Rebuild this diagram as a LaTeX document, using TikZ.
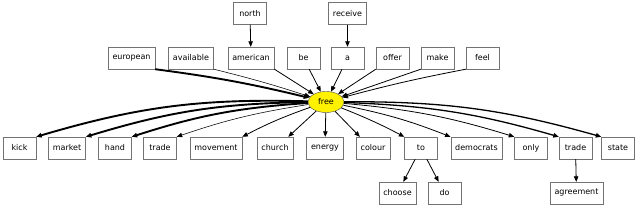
\documentclass[tikz,border=0pt]{standalone}
\usepackage{fontspec}
\setmainfont{DejaVu Sans}
\usetikzlibrary{arrows.meta,shapes.geometric}
\begin{document}
\begin{tikzpicture}[
  x=1pt,
  y=1pt,
  font=\fontsize{8}{9.5}\selectfont,
  word/.style={rectangle,draw=black!55,fill=white,minimum width=33pt,minimum height=22pt,inner xsep=4.5pt},
  hub/.style={ellipse,draw=black!70,fill=yellow,minimum width=36pt,minimum height=21pt,inner sep=1pt},
  link/.style={draw=black,line width=0.8pt,-{Triangle[length=5.5pt,width=4.5pt]}},
  thin link/.style={link,line width=0.55pt},
  strong/.style={link,line width=1.3pt},
  heavy/.style={link,line width=1.9pt}
]
  \useasboundingbox (0,0) rectangle (640,-207);

  % top rows
  \node[word] (north) at (250,-13.5) {north};
  \node[word] (receive) at (347.5,-13.5) {receive};
  \node[word] (european) at (131.5,-58) {european};
  \node[word] (available) at (191,-58) {available};
  \node[word] (american) at (251,-58) {american};
  \node[word] (be) at (303.5,-58) {be};
  \node[word] (a) at (347.5,-58) {a};
  \node[word] (offer) at (392.5,-58) {offer};
  \node[word] (make) at (437.5,-58) {make};
  \node[word] (feel) at (482.5,-58) {feel};

  \node[hub] (free) at (326,-102) {free};

  % lower rows
  \node[word] (kick) at (19.5,-148) {kick};
  \node[word] (market) at (67,-148) {market};
  \node[word] (hand) at (115,-148) {hand};
  \node[word] (tradeL) at (160,-148) {trade};
  \node[word] (movement) at (216,-148) {movement};
  \node[word] (church) at (275,-148) {church};
  \node[word] (energy) at (325,-148) {energy};
  \node[word] (colour) at (373,-148) {colour};
  \node[word] (tonode) at (421,-148) {to};
  \node[word] (democrats) at (476.5,-148) {democrats};
  \node[word] (only) at (531,-148) {only};
  \node[word] (tradeR) at (575.5,-148) {trade};
  \node[word] (state) at (618,-148) {state};
  \node[word] (choose) at (397.5,-193) {choose};
  \node[word] (do) at (444.5,-193) {do};
  \node[word] (agreement) at (576.5,-193) {agreement};

  \draw[link] (north) -- (american);
  \draw[link] (receive) -- (a);
  \draw[heavy] (european.south east) to[bend left=3] (free);
  \draw[thin link] (available.south east) to[bend left=2] (free);
  \draw[link] (american.south east) -- (free);
  \draw[link] (be) -- (free);
  \draw[link] (a) -- (free);
  \draw[link] (offer.south west) -- (free);
  \draw[link] (make.south west) -- (free);
  \draw[link] (feel.south west) to[bend right=2] (free);

  \draw[heavy] (free) to[bend right=9] (kick.north east);
  \draw[heavy] (free) to[bend right=8] (market.north east);
  \draw[heavy] (free) to[bend right=7] (hand.north east);
  \draw[thin link] (free) to[bend right=5] (tradeL.north east);
  \draw[link] (free) to[bend right=4] (movement.north east);
  \draw[link] (free) -- ([xshift=-5pt]church.north east);
  \draw[link] (free) -- (energy);
  \draw[link] (free) -- ([xshift=4pt]colour.north west);
  \draw[link] (free) to[bend left=3] (tonode.north west);
  \draw[link] (free) to[bend left=5] (democrats.north west);
  \draw[link] (free) to[bend left=6] (only.north west);
  \draw[strong] (free) to[bend left=7] (tradeR.north west);
  \draw[strong] (free) to[bend left=8] (state.north west);
  \draw[link] (tonode) -- (choose);
  \draw[link] (tonode) -- (do);
  \draw[link] (tradeR) -- (agreement);
\end{tikzpicture}
\end{document}
